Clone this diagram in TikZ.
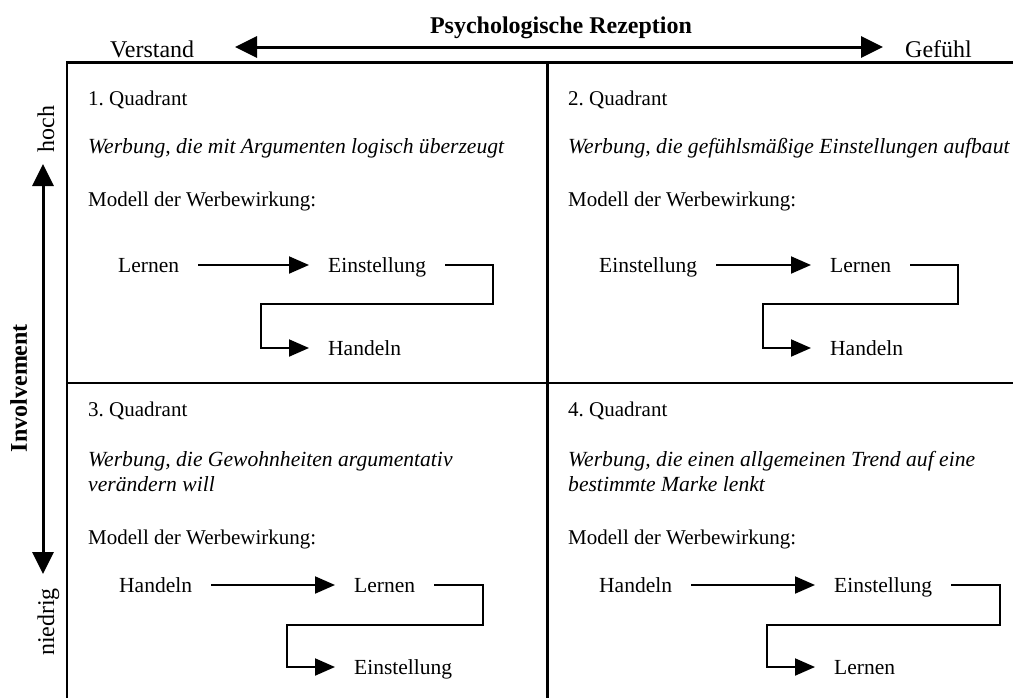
\documentclass[tikz,border=0pt]{standalone}
\usepackage{fontspec}
\setmainfont{Liberation Serif}
\usetikzlibrary{arrows.meta}
\frenchspacing
\begin{document}
\begin{tikzpicture}[x=1pt,y=-1pt,
  gridline/.style={line width=2.3pt},
  axisarrow/.style={line width=3pt,
    {Triangle[length=22pt,width=21pt]}-{Triangle[length=22pt,width=21pt]}},
  flow/.style={line width=2pt,-{Triangle[length=20pt,width=17pt]}},
  word/.style={anchor=west,inner xsep=19pt,inner ysep=0pt,
    text height=14pt,text depth=0pt,font=\fontsize{21.5}{25}\selectfont},
  qtext/.style={anchor=base west,inner sep=0pt,font=\fontsize{21}{25}\selectfont},
  qital/.style={qtext,font=\fontsize{21.6}{25}\selectfont\itshape},
  axislabel/.style={inner sep=0pt,font=\fontsize{24}{28}\selectfont},
  axistitle/.style={inner sep=0pt,font=\fontsize{24}{28}\selectfont\bfseries}
]
\useasboundingbox (0,0) rectangle (1013,697);
\clip (0,0) rectangle (1013,697);

% axis labels and arrows
\node[axistitle,anchor=base] (title) at (561,33) {Psychologische Rezeption};
\node[axislabel,anchor=base west] (verstand) at (110,57) {Verstand};
\node[axislabel,anchor=base west] (gefuehl) at (905,57) {Gefühl};
\coordinate (hl) at (235,47);
\coordinate (hr) at (883,47);
\draw[axisarrow] (hl) -- (hr);

\node[axistitle,anchor=base,rotate=90] (invol) at (27,388) {Involvement};
\node[axislabel,anchor=base,rotate=90] (hoch) at (54,129) {hoch};
\node[axislabel,anchor=base,rotate=90] (niedrig) at (54,622) {niedrig};
\coordinate (vt) at (43,164);
\coordinate (vb) at (43,574);
\draw[axisarrow] (vt) -- (vb);

% quadrant grid
\draw[gridline] (67,720) -- (67,62.5) -- (1030,62.5);
\draw[gridline] (547.5,62.5) -- (547.5,720);
\draw[gridline] (67,383) -- (1030,383);

% 1. Quadrant
\node[qtext] (q1t) at (88,105) {1. Quadrant};
\node[qital] (q1d) at (88,153) {Werbung, die mit Argumenten logisch überzeugt};
\node[qtext] (q1m) at (88,206) {Modell der Werbewirkung:};
\node[word] (q1a) at (99,265) {Lernen};
\node[word] (q1b) at (309,265) {Einstellung};
\node[word] (q1c) at (309,348) {Handeln};
\draw[flow] (q1a) -- (q1b);
\draw[flow] (q1b.east) -- ++(48,0) -- ++(0,39) -| ([xshift=-48pt]q1c.west) -- (q1c.west);

% 2. Quadrant
\node[qtext] (q2t) at (568,105) {2. Quadrant};
\node[qital] (q2d) at (568,153) {Werbung, die gefühlsmäßige Einstellungen aufbaut};
\node[qtext] (q2m) at (568,206) {Modell der Werbewirkung:};
\node[word] (q2a) at (580,265) {Einstellung};
\node[word] (q2b) at (811,265) {Lernen};
\node[word] (q2c) at (811,348) {Handeln};
\draw[flow] (q2a) -- (q2b);
\draw[flow] (q2b.east) -- ++(48,0) -- ++(0,39) -| ([xshift=-48pt]q2c.west) -- (q2c.west);

% 3. Quadrant
\node[qtext] (q3t) at (88,416) {3. Quadrant};
\node[qital] (q3d) at (88,466) {Werbung, die Gewohnheiten argumentativ};
\node[qital] (q3e) at (88,491) {verändern will};
\node[qtext] (q3m) at (88,544) {Modell der Werbewirkung:};
\node[word] (q3a) at (100,585) {Handeln};
\node[word] (q3b) at (335,585) {Lernen};
\node[word] (q3c) at (335,667) {Einstellung};
\draw[flow] (q3a) -- (q3b);
\draw[flow] (q3b.east) -- ++(49,0) -- ++(0,40) -| ([xshift=-48pt]q3c.west) -- (q3c.west);

% 4. Quadrant
\node[qtext] (q4t) at (568,416) {4. Quadrant};
\node[qital] (q4d) at (568,466) {Werbung, die einen allgemeinen Trend auf eine};
\node[qital] (q4e) at (568,491) {bestimmte Marke lenkt};
\node[qtext] (q4m) at (568,544) {Modell der Werbewirkung:};
\node[word] (q4a) at (580,585) {Handeln};
\node[word] (q4b) at (815,585) {Einstellung};
\node[word] (q4c) at (815,667) {Lernen};
\draw[flow] (q4a) -- (q4b);
\draw[flow] (q4b.east) -- ++(49,0) -- ++(0,40) -| ([xshift=-48pt]q4c.west) -- (q4c.west);
\end{tikzpicture}
\end{document}
